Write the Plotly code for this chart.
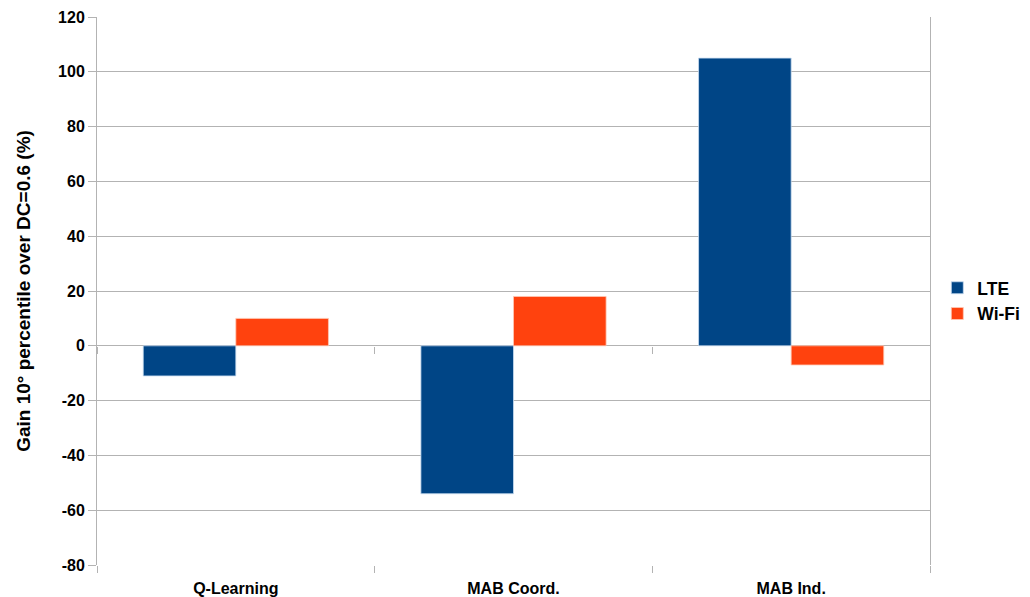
import plotly.graph_objects as go

categories = ["Q-Learning", "MAB Coord.", "MAB Ind."]
lte = [-11, -54, 105]
wifi = [10, 18, -7]
y_ticks = [-80, -60, -40, -20, 0, 20, 40, 60, 80, 100, 120]
y_tick_text = [str(v) for v in y_ticks]  # plain hyphen minus, as in the reference

grid = "#b3b3b3"
font = "Liberation Sans, Arial, sans-serif"

fig = go.Figure()
fig.add_trace(go.Bar(x=categories, y=lte, name="LTE",
                     marker=dict(color="#004586", line=dict(color="rgba(200,220,240,0.8)", width=1))))
fig.add_trace(go.Bar(x=categories, y=wifi, name="Wi-Fi",
                     marker=dict(color="#ff420e", line=dict(color="rgba(255,200,180,0.8)", width=1))))

# boundary tick axes (no labels)
bounds = [i - 0.5 for i in range(len(categories) + 1)]
fig.add_trace(go.Scatter(x=[bounds[0], bounds[-1]], y=[None, None], xaxis="x2", yaxis="y",
                         showlegend=False, hoverinfo="skip"))
fig.add_trace(go.Scatter(x=[bounds[0], bounds[-1]], y=[None, None], xaxis="x3", yaxis="y",
                         showlegend=False, hoverinfo="skip"))

fig.update_layout(
    width=1030, height=597,
    margin=dict(l=97, r=100, t=17, b=32, autoexpand=False),
    paper_bgcolor="white", plot_bgcolor="white",
    barmode="group", bargap=0.333, bargroupgap=0,
    font=dict(family=font, size=14, color="#000000"),
    showlegend=True,
    legend=dict(xref="container", yref="container", x=0.91, y=0.496,
                xanchor="left", yanchor="middle",
                font=dict(family=font, size=17.5, color="#000000", weight="bold"),
                itemwidth=30),
    xaxis=dict(type="category", showgrid=False, showline=False, ticks="outside", ticklen=9,
               tickcolor="rgba(0,0,0,0)", automargin=False,
               tickfont=dict(family=font, size=16, color="#000000", weight="bold"),
               zeroline=False),
    xaxis2=dict(overlaying="x", anchor="y", side="bottom", range=[bounds[0], bounds[-1]],
                tickvals=bounds, showticklabels=False, ticks="outside", ticklen=7,
                tickcolor=grid, showgrid=False, showline=False, zeroline=False, automargin=False),
    xaxis3=dict(overlaying="x", anchor="free", position=0.4, side="bottom",
                range=[bounds[0], bounds[-1]],
                tickvals=bounds, showticklabels=False, ticks="outside", ticklen=7,
                tickcolor=grid, showgrid=False, showline=False, zeroline=False, automargin=False),
    yaxis=dict(range=[-80, 120], tickvals=y_ticks, ticktext=y_tick_text,
               showgrid=True, gridcolor=grid, gridwidth=1,
               showline=True, linecolor=grid, linewidth=1, mirror=True,
               ticks="outside", ticklen=8, tickcolor=grid, automargin=False,
               zeroline=True, zerolinecolor=grid, zerolinewidth=1,
               tickfont=dict(family=font, size=16, color="#000000", weight="bold"),
               title=dict(text="Gain 10° percentile over DC=0.6 (%)",
                          font=dict(family=font, size=19, color="#000000", weight="bold"),
                          standoff=22)),
)

fig.write_html("out.html", config={"displayModeBar": False},
               post_script="document.body.style.margin='0';document.body.style.overflow='hidden';")
